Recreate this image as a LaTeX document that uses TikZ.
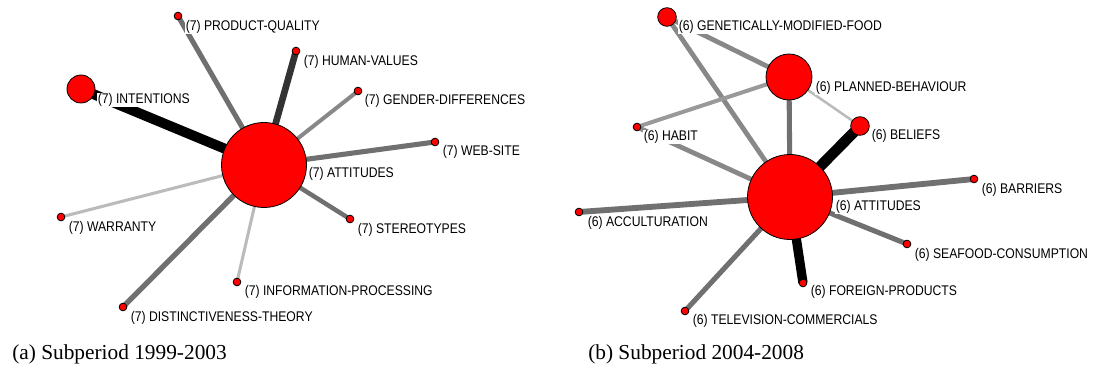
\documentclass[tikz,border=0pt]{standalone}
\usepackage{fontspec}
\newfontfamily\labfont[FakeStretch=0.87]{Liberation Sans}
\newfontfamily\capfont{Liberation Serif}
\pgfdeclarelayer{edgelayer}
\pgfdeclarelayer{lablayer}
\pgfsetlayers{edgelayer,lablayer,main}
\definecolor{eA}{HTML}{000000}
\definecolor{eB}{HTML}{333333}
\definecolor{eC}{HTML}{707070}
\definecolor{eD}{HTML}{888888}
\definecolor{eE}{HTML}{999999}
\definecolor{eF}{HTML}{BBBBBB}
\tikzset{
  hub/.style={circle,draw=black,line width=0.6pt,fill=red,inner sep=0pt,minimum size=#1},
  leaf/.style={circle,draw=black,line width=0.6pt,fill=red,inner sep=0pt,minimum size=5.8pt},
  lab/.style={anchor=base west,fill=white,inner sep=0.4pt,font=\labfont\fontsize{10.5}{12}\selectfont},
  capt/.style={anchor=base west,inner sep=0pt,font=\capfont\fontsize{16}{19}\selectfont},
  lnk/.style={line cap=butt}
}
\begin{document}
\begin{tikzpicture}[x=0.75pt,y=-0.75pt]
\useasboundingbox (0,0) rectangle (1097,367);
% ---------------- left panel ----------------
\node[hub=63.75pt] (LA) at (264,165) {};
\node[hub=21pt] (LI) at (81,89) {};
\node[leaf] (LPQ) at (178,16) {};
\node[leaf] (LHV) at (296,51) {};
\node[leaf] (LGD) at (358,91) {};
\node[leaf] (LWS) at (435,142) {};
\node[leaf] (LWA) at (61,217) {};
\node[leaf] (LST) at (350,219) {};
\node[leaf] (LIP) at (237,282) {};
\node[leaf] (LDT) at (123,307) {};
\begin{pgfonlayer}{lablayer}
\node[lab] (tLA) at (308,177.8) {(7) ATTITUDES};
\node[lab] (tLI) at (97,103.8) {(7) INTENTIONS};
\node[lab] (tLPQ) at (185,30.8) {(7) PRODUCT-QUALITY};
\node[lab] (tLHV) at (303,65.8) {(7) HUMAN-VALUES};
\node[lab] (tLGD) at (364,104.8) {(7) GENDER-DIFFERENCES};
\node[lab] (tLWS) at (442,155.8) {(7) WEB-SITE};
\node[lab] (tLWA) at (68,231.8) {(7) WARRANTY};
\node[lab] (tLST) at (357,233.8) {(7) STEREOTYPES};
\node[lab] (tLIP) at (244,295.8) {(7) INFORMATION-PROCESSING};
\node[lab] (tLDT) at (130,321.8) {(7) DISTINCTIVENESS-THEORY};
\end{pgfonlayer}
\begin{pgfonlayer}{edgelayer}
\draw[lnk,eA,line width=7.5pt] (LA.center) -- (LI.center);
\draw[lnk,eC,line width=3.8pt] (LA.center) -- (LPQ.center);
\draw[lnk,eB,line width=5pt] (LA.center) -- (LHV.center);
\draw[lnk,eD,line width=3pt] (LA.center) -- (LGD.center);
\draw[lnk,eC,line width=3.8pt] (LA.center) -- (LWS.center);
\draw[lnk,eF,line width=2.3pt] (LA.center) -- (LWA.center);
\draw[lnk,eC,line width=3.4pt] (LA.center) -- (LST.center);
\draw[lnk,eF,line width=2.3pt] (LA.center) -- (LIP.center);
\draw[lnk,eC,line width=4pt] (LA.center) -- (LDT.center);
\end{pgfonlayer}
\node[capt] (capA) at (12,359.5) {(a) Subperiod 1999-2003};
% ---------------- right panel ----------------
\node[hub=63.75pt] (RA) at (790,197) {};
\node[hub=14pt] (RGM) at (667,17) {};
\node[hub=34.5pt] (RPB) at (789,77) {};
\node[hub=14pt] (RBE) at (860,126) {};
\node[leaf] (RHA) at (637,127) {};
\node[leaf] (RBA) at (974,179) {};
\node[leaf] (RSE) at (907,244) {};
\node[leaf] (RFP) at (803,283) {};
\node[leaf] (RTV) at (685,311) {};
\node[leaf] (RAC) at (579,212) {};
\begin{pgfonlayer}{lablayer}
\node[lab] (tRA) at (835,210.8) {(6) ATTITUDES};
\node[lab] (tRGM) at (678,30.8) {(6) GENETICALLY-MODIFIED-FOOD};
\node[lab] (tRPB) at (815,91.8) {(6) PLANNED-BEHAVIOUR};
\node[lab] (tRBE) at (871,139.8) {(6) BELIEFS};
\node[lab] (tRHA) at (643,140.8) {(6) HABIT};
\node[lab] (tRBA) at (981,193.8) {(6) BARRIERS};
\node[lab] (tRSE) at (914,258.8) {(6) SEAFOOD-CONSUMPTION};
\node[lab] (tRFP) at (810,295.8) {(6) FOREIGN-PRODUCTS};
\node[lab] (tRTV) at (692,324.8) {(6) TELEVISION-COMMERCIALS};
\node[lab] (tRAC) at (587,226.8) {(6) ACCULTURATION};
\end{pgfonlayer}
\begin{pgfonlayer}{edgelayer}
\draw[lnk,eD,line width=3.6pt] (RGM.center) -- (RPB.center);
\draw[lnk,eD,line width=3.6pt] (RGM.center) -- (RA.center);
\draw[lnk,eE,line width=3pt] (RHA.center) -- (RPB.center);
\draw[lnk,eD,line width=3.6pt] (RHA.center) -- (RA.center);
\draw[lnk,eC,line width=3.8pt] (RPB.center) -- (RA.center);
\draw[lnk,eF,line width=1.9pt] (RPB.center) -- (RBE.center);
\draw[lnk,eA,line width=8pt] (RBE.center) -- (RA.center);
\draw[lnk,eC,line width=4.4pt] (RBA.center) -- (RA.center);
\draw[lnk,eC,line width=4.4pt] (RAC.center) -- (RA.center);
\draw[lnk,eC,line width=3.8pt] (RSE.center) -- (RA.center);
\draw[lnk,eA,line width=7pt] (RFP.center) -- (RA.center);
\draw[lnk,eC,line width=3.8pt] (RTV.center) -- (RA.center);
\end{pgfonlayer}
\node[capt] (capB) at (588,359.5) {(b) Subperiod 2004-2008};
\end{tikzpicture}
\end{document}
